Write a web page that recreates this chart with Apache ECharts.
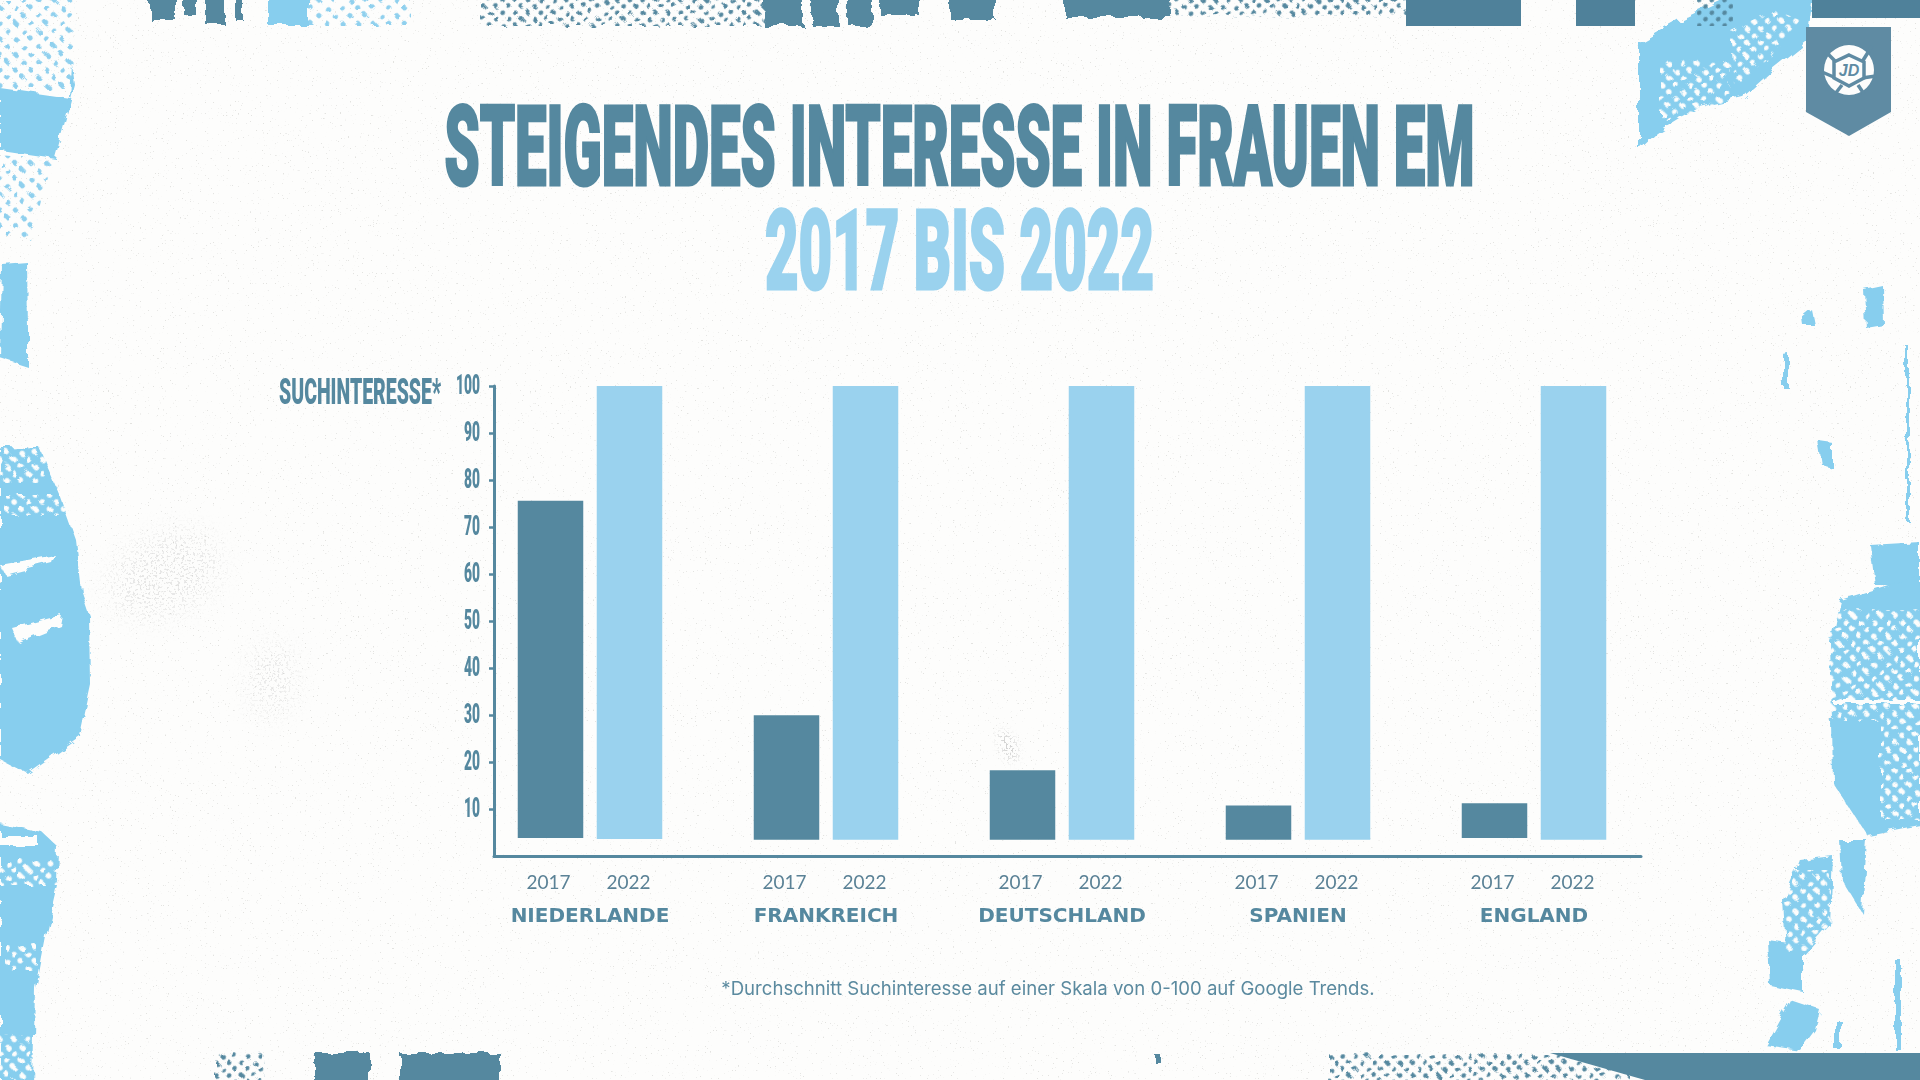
<!DOCTYPE html>
<html>
<head>
<meta charset="utf-8">
<title>Steigendes Interesse in Frauen EM</title>
<script src="https://cdn.jsdelivr.net/npm/echarts@6/dist/echarts.min.js"></script>
<style>
    html, body { margin: 0; padding: 0; width: 1920px; height: 1080px; overflow: hidden; background: #fdfdfc; }
    #deko { position: absolute; left: 0; top: 0; }
    #main { position: absolute; left: 0; top: 0; width: 1920px; height: 1080px; }
</style>
</head>
<body>
<!-- Papier und Rissränder, nur Dekoration -->
<svg id="deko" width="1920" height="1080" viewBox="0 0 1920 1080">
    <defs>
        <filter id="riss" x="-10%" y="-10%" width="120%" height="120%">
            <feTurbulence type="fractalNoise" baseFrequency="0.07" numOctaves="3" seed="4"/>
            <feDisplacementMap in="SourceGraphic" scale="9"/>
        </filter>
        <filter id="korn" x="0" y="0" width="100%" height="100%">
            <feTurbulence type="fractalNoise" baseFrequency="0.6" numOctaves="2" seed="11"/>
            <feColorMatrix type="matrix" values="0 0 0 0 0.55  0 0 0 0 0.55  0 0 0 0 0.53  0 0 0 11 -7.9"/>
        </filter>
        <filter id="fleck" x="-40%" y="-40%" width="180%" height="180%">
            <feGaussianBlur in="SourceAlpha" stdDeviation="14" result="weich"/>
            <feTurbulence type="fractalNoise" baseFrequency="0.45" numOctaves="2" seed="7"/>
            <feColorMatrix type="matrix" values="0 0 0 0 0.5  0 0 0 0 0.5  0 0 0 0 0.5  0 0 0 12 -6.8"/>
            <feComposite in2="weich" operator="in"/>
        </filter>
        <filter id="fleckKlein" x="-60%" y="-60%" width="220%" height="220%">
            <feGaussianBlur in="SourceAlpha" stdDeviation="4" result="weich"/>
            <feTurbulence type="fractalNoise" baseFrequency="0.5" numOctaves="2" seed="3"/>
            <feColorMatrix type="matrix" values="0 0 0 0 0.5  0 0 0 0 0.5  0 0 0 0 0.5  0 0 0 12 -6.4"/>
            <feComposite in2="weich" operator="in"/>
        </filter>
        <pattern id="hellPunkte" width="11" height="11" patternUnits="userSpaceOnUse" patternTransform="rotate(45)">
            <circle cx="5.5" cy="5.5" r="2.6" fill="#8fd0ee"/>
        </pattern>
        <pattern id="weissPunkte" width="10" height="10" patternUnits="userSpaceOnUse" patternTransform="rotate(45)">
            <circle cx="5" cy="5" r="2.8" fill="#fdfdfc"/>
        </pattern>
        <pattern id="dunkelPunkte" width="9" height="9" patternUnits="userSpaceOnUse" patternTransform="rotate(45)">
            <ellipse cx="4.5" cy="4.5" rx="2.2" ry="2.6" fill="#55889f"/>
        </pattern>
    </defs>
    <rect width="1920" height="1080" filter="url(#korn)" opacity="0.45"/>
    <g filter="url(#fleck)" opacity="0.35">
        <ellipse cx="165" cy="575" rx="60" ry="40" transform="rotate(-25 165 575)"/>
        <ellipse cx="272" cy="680" rx="22" ry="38"/>
    </g>
    <g filter="url(#fleckKlein)" opacity="0.7">
        <ellipse cx="1008" cy="746" rx="8" ry="17" transform="rotate(-25 1008 746)"/>
    </g>

    <!-- links -->
    <g filter="url(#riss)" fill="#87ceee">
        <polygon points="-10,0 75,0 73,88 -10,88" fill="url(#hellPunkte)"/>
        <polygon points="0,88 70,98 72,65 75,85 55,158 0,150"/>
        <polygon points="0,155 52,160 40,200 30,240 0,235" fill="url(#hellPunkte)"/>
        <polygon points="2,264 27,262 28,330 28,367 0,358"/>
        <polygon points="0,448 40,448 60,495 76,540 82,592 90,616 91,685 80,736 27,773 0,759"/>
        <polygon points="0,824 43,833 58,847 57,885 45,936 35,988 33,1085 0,1085"/>
    </g>
    <g filter="url(#riss)">
        <rect x="0" y="448" width="45" height="35" fill="url(#weissPunkte)"/>
        <rect x="5" y="495" width="65" height="20" fill="url(#weissPunkte)"/>
        <polygon points="12,628 62,615 60,625 18,642" fill="#fdfdfc"/>
        <polygon points="0,565 55,555 52,563 5,575" fill="#fdfdfc"/>
        <rect x="0" y="836" width="38" height="9" fill="#fdfdfc"/>
        <rect x="0" y="860" width="58" height="25" fill="url(#weissPunkte)"/>
        <rect x="5" y="945" width="32" height="25" fill="url(#weissPunkte)"/>
        <rect x="0" y="1035" width="33" height="45" fill="url(#weissPunkte)"/>
    </g>

    <!-- rechts -->
    <g filter="url(#riss)" fill="#87ceee">
        <polygon points="1864,290 1883,286 1884,325 1866,328"/>
        <polygon points="1802,318 1812,310 1815,325 1803,325"/>
        <polygon points="1783,355 1789,354 1789,388 1783,388"/>
        <polygon points="1818,440 1832,442 1832,468 1822,465"/>
        <rect x="1906" y="346" width="3" height="175"/>
        <polygon points="1870,545 1920,542 1920,585 1875,585"/>
        <polygon points="1840,600 1920,575 1920,825 1867,835 1833,783 1832,720 1830,642"/>
        <polygon points="1840,840 1867,840 1862,913 1842,880"/>
        <polygon points="1783,900 1800,860 1833,856 1830,925 1803,956 1786,950"/>
        <polygon points="1768,940 1803,945 1803,992 1770,985"/>
        <polygon points="1765,1045 1790,1000 1820,1010 1815,1030 1800,1050"/>
        <rect x="1895" y="960" width="6" height="90"/>
        <rect x="1835" y="1020" width="6" height="30"/>
    </g>
    <g filter="url(#riss)">
        <rect x="1830" y="610" width="90" height="110" fill="url(#weissPunkte)"/>
        <rect x="1880" y="720" width="40" height="100" fill="url(#weissPunkte)"/>
        <rect x="1785" y="870" width="45" height="80" fill="url(#weissPunkte)"/>
        <rect x="1833" y="700" width="87" height="4" fill="#fdfdfc"/>
    </g>

    <!-- oben -->
    <g filter="url(#riss)">
        <polygon points="1639,43 1680,20 1733,-5 1813,-5 1807,43 1773,70 1743,97 1700,107 1657,133 1639,150" fill="#87ceee"/>
        <polygon points="1730,30 1775,10 1800,20 1770,60 1735,85" fill="url(#weissPunkte)"/>
        <rect x="1660" y="60" width="70" height="60" fill="url(#weissPunkte)"/>
        <rect x="268" y="-5" width="41" height="30" fill="#87ceee"/>
        <rect x="309" y="-5" width="102" height="30" fill="url(#hellPunkte)"/>
        <rect x="150" y="-5" width="26" height="25" fill="#55889f"/>
        <rect x="184" y="-5" width="12" height="20" fill="#55889f"/>
        <rect x="205" y="-5" width="20" height="30" fill="#55889f"/>
        <rect x="234" y="-5" width="8" height="24" fill="#55889f"/>
        <rect x="482" y="-5" width="281" height="31" fill="url(#dunkelPunkte)"/>
        <rect x="763" y="-5" width="40" height="31" fill="#55889f"/>
        <rect x="812" y="-5" width="26" height="31" fill="#55889f"/>
        <rect x="848" y="-5" width="24" height="31" fill="#55889f"/>
        <rect x="880" y="-5" width="40" height="20" fill="#55889f"/>
        <rect x="950" y="-5" width="45" height="24" fill="#55889f"/>
        <rect x="1064" y="-5" width="107" height="22" fill="#55889f"/>
        <rect x="1171" y="-5" width="240" height="22" fill="url(#dunkelPunkte)"/>
    </g>
    <rect x="1406" y="0" width="115" height="26" fill="#4f819a"/>
    <rect x="1576" y="0" width="59" height="26" fill="#4f819a"/>
    <rect x="1697" y="0" width="36" height="26" fill="url(#dunkelPunkte)"/>
    <rect x="1812" y="0" width="108" height="18" fill="#4f819a"/>

    <!-- unten -->
    <g filter="url(#riss)">
        <rect x="215" y="1053" width="50" height="32" fill="url(#dunkelPunkte)"/>
        <rect x="315" y="1053" width="55" height="32" fill="#55889f"/>
        <rect x="400" y="1053" width="100" height="32" fill="#55889f"/>
        <rect x="1155" y="1055" width="6" height="8" fill="#55889f"/>
        <rect x="1329" y="1054" width="300" height="30" fill="url(#dunkelPunkte)"/>
    </g>
    <polygon points="1550,1053 1920,1053 1920,1080 1645,1080" fill="#55889f"/>

    <!-- Logo -->
    <polygon points="1806,27 1891,27 1891,112 1849,136 1806,112" fill="#5f8ba3"/>
    <circle cx="1849" cy="70" r="25" fill="#fdfdfc"/>
    <g stroke="#5f8ba3" stroke-width="3.5">
        <line x1="1862" y1="62" x2="1872" y2="46"/>
        <line x1="1836" y1="62" x2="1826" y2="52"/>
        <line x1="1836" y1="78" x2="1822" y2="72"/>
        <line x1="1862" y1="78" x2="1876" y2="76"/>
        <line x1="1842" y1="85" x2="1835" y2="94"/>
        <line x1="1858" y1="85" x2="1864" y2="94"/>
    </g>
    <polygon points="1849,55 1864,62 1864,78 1849,86 1834,78 1834,62" fill="#fdfdfc" stroke="#5f8ba3" stroke-width="3.5"/>
    <text x="1849" y="76" text-anchor="middle" font-family="Liberation Sans" font-weight="bold" font-style="italic" font-size="16" fill="#5f8ba3">JD</text>
</svg>

<div id="main"></div>
<script type="text/javascript">
    var countries = ['NIEDERLANDE', 'FRANKREICH', 'DEUTSCHLAND', 'SPANIEN', 'ENGLAND'];
    var years = ['2017', '2022'];
    // obere Kante der Balken
    var top2017 = [75.6, 30, 18.3, 10.8, 11.3];
    var top2022 = [100, 100, 100, 100, 100];
    // die Balken stehen nicht auf der Achse, untere Kante
    var base2017 = [3.9, 3.5, 3.5, 3.5, 3.9];
    var base2022 = [3.7, 3.5, 3.5, 3.5, 3.5];
    var yTicks = [10, 20, 30, 40, 50, 60, 70, 80, 90, 100];

    var dark = '#55889f';
    var light = '#9ad2ee';

    var myChart = echarts.init(document.getElementById('main'), null, {renderer: 'canvas'});

    function minus(tops, bases) {
        return tops.map(function (v, i) { return v - bases[i]; });
    }

    function baseSeries(name, data, year, dx) {
        return {
            name: name, type: 'bar', stack: year, barWidth: 65.5, barGap: '20.6%',
            xAxisIndex: 0, yAxisIndex: 0, silent: true,
            itemStyle: {color: 'transparent'},
            label: {
                show: true, position: 'bottom', distance: 17, offset: [dx, 0],
                formatter: year, color: '#5b8296',
                fontFamily: 'Lato', fontSize: 19
            },
            data: data
        };
    }

    function valueSeries(name, data, year, color) {
        return {
            name: name, type: 'bar', stack: year, barWidth: 65.5, barGap: '20.6%',
            xAxisIndex: 0, yAxisIndex: 0, silent: true,
            itemStyle: {color: color},
            data: data
        };
    }

    var option = {
        animation: false,
        backgroundColor: 'transparent',
        grid: [
            // Balken: Gruppenbreite 236
            {left: 472, width: 1180, top: 386, height: 470.3},
            // sichtbare Achsen
            {left: 494, width: 1147, top: 386, height: 470.3}
        ],
        xAxis: [
            {
                type: 'category', gridIndex: 0, data: countries,
                axisLine: {show: false}, axisTick: {show: false},
                axisLabel: {
                    margin: 50, color: dark, interval: 0,
                    fontFamily: 'DejaVu Sans', fontWeight: 'bold', fontSize: 20
                }
            },
            {
                type: 'value', gridIndex: 1, min: 0, max: 1,
                axisLine: {show: true, lineStyle: {color: dark, width: 3}},
                axisTick: {show: false}, axisLabel: {show: false}, splitLine: {show: false}
            }
        ],
        yAxis: [
            {type: 'value', gridIndex: 0, min: 0, max: 100, show: false},
            {
                type: 'value', gridIndex: 1, min: 0, max: 100, interval: 10,
                axisLine: {show: true, onZero: false, lineStyle: {color: dark, width: 3}},
                axisTick: {show: true, length: 5, customValues: yTicks, lineStyle: {color: dark, width: 2.5}},
                axisLabel: {show: false}, splitLine: {show: false}
            }
        ],
        series: [
            baseSeries('Basis 2017', base2017, years[0], -2),
            valueSeries('2017', minus(top2017, base2017), years[0], dark),
            baseSeries('Basis 2022', base2022, years[1], -1),
            valueSeries('2022', minus(top2022, base2022), years[1], light)
        ]
    };
    myChart.setOption(option);

    // schmale Schrift gibt es nicht: breite Schrift auf die Zielbreite stauchen
    var measure = document.createElement('canvas').getContext('2d');
    function squeezed(text, font, width) {
        measure.font = font;
        return width / measure.measureText(text).width;
    }
    function squeezedText(text, font, x, y, sx, align, color, stroke) {
        return {
            type: 'text', x: x, y: y, scaleX: sx, silent: true, z: 10,
            style: {
                text: text, font: font, fill: color, align: align, verticalAlign: 'middle',
                stroke: stroke ? color : null, lineWidth: stroke || 0, lineJoin: 'miter'
            }
        };
    }

    var titleFont = '900 112px Roboto';
    var sideFont = '900 37px Roboto';
    var tickFont = '900 27px Roboto';
    var tickScale = squeezed('100', tickFont, 24);

    var elements = [
        squeezedText('STEIGENDES INTERESSE IN FRAUEN EM', titleFont, 959.5, 157,
            squeezed('STEIGENDES INTERESSE IN FRAUEN EM', titleFont, 1030), 'center', dark, 3),
        squeezedText('2017 BIS 2022', titleFont, 959.5, 261,
            squeezed('2017 BIS 2022', titleFont, 389), 'center', light, 3),
        squeezedText('SUCHINTERESSE*', sideFont, 279, 395,
            squeezed('SUCHINTERESSE*', sideFont, 162), 'left', dark, 0),
        {
            type: 'text', x: 1048, y: 989, silent: true,
            style: {
                text: '*Durchschnitt Suchinteresse auf einer Skala von 0-100 auf Google Trends.',
                font: '18.6px Inter', fill: '#5b8a9f', align: 'center', verticalAlign: 'middle'
            }
        }
    ];
    yTicks.forEach(function (v) {
        var py = myChart.convertToPixel({yAxisIndex: 1}, v);
        elements.push(squeezedText(String(v), tickFont, 480, py + 1, tickScale, 'right', dark, 0));
    });
    myChart.setOption({graphic: {elements: elements}});
</script>
</body>
</html>
